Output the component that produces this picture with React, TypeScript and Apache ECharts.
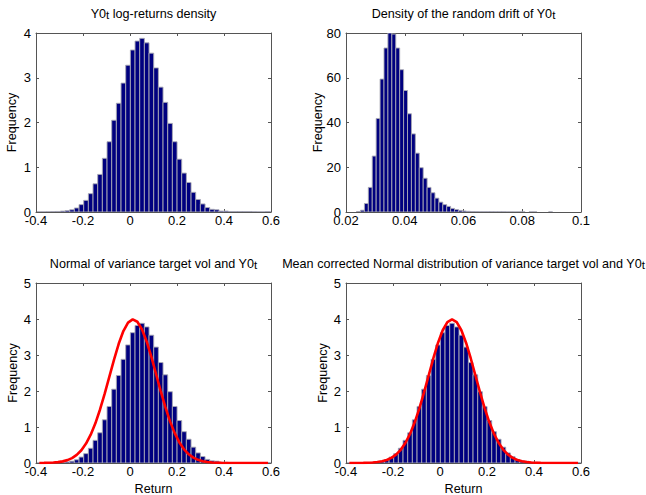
import React, { useEffect, useRef } from "react";
import * as echarts from "echarts";

// ---- Data ----
// Log-return histogram (50 equal bins), density values
const returnBinStart = -0.3956;
const returnBinWidth = 0.01986;
const returnDensity = [
  0.003, 0.003, 0.005, 0.008, 0.012, 0.02, 0.03, 0.05, 0.09, 0.165,
  0.26, 0.41, 0.63, 0.84, 1.2, 1.57, 2.05, 2.43, 2.88, 3.28,
  3.62, 3.82, 3.88, 3.78, 3.55, 3.22, 2.79, 2.45, 1.98, 1.57,
  1.18, 0.87, 0.66, 0.44, 0.28, 0.18, 0.1, 0.06, 0.05, 0.02,
  0.02, 0.01, 0.01, 0.01, 0.01, 0.01, 0.005, 0.003, 0.003, 0.01,
];

// Random drift histogram (50 equal bins)
const driftBinStart = 0.0236;
const driftBinWidth = 0.001334;
const driftDensity = [
  0.2, 0.8, 3.8, 11, 25, 41.8, 59.4, 73.3, 80, 79.5,
  73.3, 63.6, 54.3, 43.9, 34.9, 26.3, 19.8, 15.1, 11.0, 8.6,
  6.2, 4.4, 3.3, 2.5, 1.6, 1.1, 0.7, 0.45, 0.3, 0.2,
  0.15, 0.1, 0.1, 0.1, 0.1, 0.08, 0.08, 0.08, 0.05, 0.05,
  0.03, 0.05, 0.05, 0, 0.05, 0.05, 0, 0, 0, 0.05,
];

// Red normal curves evaluated at the return-bin centres
const normalFit = [
  0.001, 0.003, 0.006, 0.013, 0.024, 0.045, 0.08, 0.137, 0.225, 0.355,
  0.539, 0.786, 1.102, 1.487, 1.926, 2.401, 2.874, 3.311, 3.665, 3.9,
  3.99, 3.924, 3.709, 3.37, 2.946, 2.473, 1.998, 1.551, 1.156, 0.83,
  0.572, 0.38, 0.242, 0.148, 0.087, 0.049, 0.027, 0.014, 0.007, 0.003,
  0.002, 0.001, 0, 0, 0, 0, 0, 0, 0, 0,
];
const meanCorrectedFit = [
  0.0003, 0.0007, 0.0015, 0.003, 0.007, 0.013, 0.026, 0.047, 0.084, 0.142,
  0.233, 0.367, 0.555, 0.808, 1.129, 1.518, 1.962, 2.437, 2.91, 3.341,
  3.687, 3.912, 3.99, 3.912, 3.687, 3.341, 2.91, 2.437, 1.962, 1.518,
  1.129, 0.808, 0.555, 0.367, 0.233, 0.142, 0.084, 0.047, 0.026, 0.013,
  0.007, 0.003, 0.0015, 0.0007, 0.0003, 0.0001, 0, 0, 0, 0,
];

const returnXTicks = { min: -0.4, max: 0.6, interval: 0.2 };
const driftXTicks = { min: 0.02, max: 0.1, interval: 0.02 };
const returnYTicksTop = { min: 0, max: 4, interval: 1 };
const driftYTicks = { min: 0, max: 80, interval: 20 };
const returnYTicksBottom = { min: 0, max: 5, interval: 1 };

const titles = [
  { main: "Y0", sub: "t", after: " log-returns density" },
  { main: "Density of the random drift of Y0", sub: "t", after: "" },
  { main: "Normal of variance target vol and Y0", sub: "t", after: "" },
  { main: "Mean corrected Normal distribution of variance target vol and Y0", sub: "t", after: "" },
];

// ---- Styling / layout ----
const FONT = "'Liberation Sans', Arial, Helvetica, sans-serif";
const AXIS_COLOR = "#555555";
const BAR_FILL = "#00007f";
const BAR_EDGE = "#a9a9b4";

const grids = [
  { left: 36, top: 33, width: 235, height: 179 },
  { left: 346, top: 33, width: 235, height: 179 },
  { left: 36, top: 283, width: 235, height: 180 },
  { left: 346, top: 283, width: 235, height: 180 },
];

function histData(start: number, width: number, vals: number[]) {
  const out: number[][] = [];
  vals.forEach((v, i) => {
    if (v > 0) out.push([start + i * width, start + (i + 1) * width, v]);
  });
  return out;
}

function centers(start: number, width: number, n: number) {
  const out: number[] = [];
  for (let i = 0; i < n; i++) out.push(start + (i + 0.5) * width);
  return out;
}

function axisPair(kind: "x" | "y", gridIndex: number, t: { min: number; max: number; interval: number }) {
  const common = {
    type: "value",
    gridIndex,
    min: t.min,
    max: t.max,
    interval: t.interval,
    splitLine: { show: false },
    axisLine: { show: true, onZero: false, lineStyle: { color: AXIS_COLOR, width: 1 } },
    axisTick: { show: true, inside: true, length: 3, lineStyle: { color: AXIS_COLOR } },
  };
  const main = {
    ...common,
    position: kind === "x" ? "bottom" : "left",
    axisLabel: {
      show: true,
      color: "#000",
      fontSize: 13,
      fontFamily: FONT,
      margin: kind === "x" ? 2 : 5,
    },
  };
  const opp = {
    ...common,
    position: kind === "x" ? "top" : "right",
    axisLabel: { show: false },
  };
  return [main, opp];
}

function histSeries(gi: number, data: number[][]) {
  return {
    type: "custom",
    xAxisIndex: gi * 2,
    yAxisIndex: gi * 2,
    clip: true,
    encode: { x: [0, 1], y: 2 },
    data,
    renderItem: (params: any, api: any) => {
      const a = api.coord([api.value(0), 0]);
      const b = api.coord([api.value(1), api.value(2)]);
      return {
        type: "rect",
        shape: { x: a[0], y: b[1], width: b[0] - a[0], height: a[1] - b[1] },
        style: { fill: BAR_FILL, stroke: BAR_EDGE, lineWidth: 0.9 },
      };
    },
    z: 2,
  };
}

function lineSeries(gi: number, xs: number[], ys: number[]) {
  return {
    type: "line",
    xAxisIndex: gi * 2,
    yAxisIndex: gi * 2,
    data: xs.map((x, i) => [x, ys[i]]),
    showSymbol: false,
    symbol: "none",
    smooth: false,
    lineStyle: { color: "#ff0000", width: 2.6 },
    z: 5,
  };
}

function titleGraphic(i: number) {
  const g = grids[i];
  const t = titles[i];
  const text = `{n|${t.main}}{s|${t.sub}}` + (t.after ? `{n|${t.after}}` : "");
  return {
    type: "text",
    x: g.left + g.width / 2,
    y: g.top - 19,
    style: {
      text,
      align: "center",
      verticalAlign: "middle",
      fontSize: 12.6,
      fontFamily: FONT,
      fill: "#000",
      rich: {
        n: { fontSize: 12.6, fontFamily: FONT, fill: "#000", lineHeight: 14, verticalAlign: "middle" },
        s: { fontSize: 11.5, fontFamily: FONT, fill: "#000", lineHeight: 8, verticalAlign: "bottom" },
      },
    },
  };
}

function textGraphic(text: string, x: number, y: number, rotate = false) {
  return {
    type: "text",
    x,
    y,
    rotation: rotate ? Math.PI / 2 : 0,
    style: {
      text,
      align: "center",
      verticalAlign: "middle",
      fontSize: 12.6,
      fontFamily: FONT,
      fill: "#000",
    },
  };
}

export default function App() {
  const ref = useRef<HTMLDivElement>(null);

  useEffect(() => {
    if (!ref.current) return;
    const chart = echarts.init(ref.current, undefined, { renderer: "svg" });

    const returnHist = histData(returnBinStart, returnBinWidth, returnDensity);
    const driftHist = histData(driftBinStart, driftBinWidth, driftDensity);
    const returnCenters = centers(returnBinStart, returnBinWidth, returnDensity.length);

    const xAxes = [
      ...axisPair("x", 0, returnXTicks),
      ...axisPair("x", 1, driftXTicks),
      ...axisPair("x", 2, returnXTicks),
      ...axisPair("x", 3, returnXTicks),
    ];
    const yAxes = [
      ...axisPair("y", 0, returnYTicksTop),
      ...axisPair("y", 1, driftYTicks),
      ...axisPair("y", 2, returnYTicksBottom),
      ...axisPair("y", 3, returnYTicksBottom),
    ];

    const option: any = {
      animation: false,
      backgroundColor: "#ffffff",
      textStyle: { fontFamily: FONT },
      grid: grids.map((g) => ({ ...g, containLabel: false })),
      xAxis: xAxes,
      yAxis: yAxes,
      series: [
        histSeries(0, returnHist),
        histSeries(1, driftHist),
        histSeries(2, returnHist),
        histSeries(3, returnHist),
        lineSeries(2, returnCenters, normalFit),
        lineSeries(3, returnCenters, meanCorrectedFit),
      ],
      graphic: [
        titleGraphic(0),
        titleGraphic(1),
        titleGraphic(2),
        titleGraphic(3),
        textGraphic("Frequency", 12, 122.5, true),
        textGraphic("Frequency", 318, 122.5, true),
        textGraphic("Frequency", 13, 373, true),
        textGraphic("Frequency", 323, 373, true),
        textGraphic("Return", 153.5, 489),
        textGraphic("Return", 463.5, 489),
      ],
    };
    chart.setOption(option);
    return () => chart.dispose();
  }, []);

  return (
    <div
      ref={ref}
      style={{ position: "absolute", left: 0, top: 0, width: 646, height: 495, background: "#fff" }}
    />
  );
}
